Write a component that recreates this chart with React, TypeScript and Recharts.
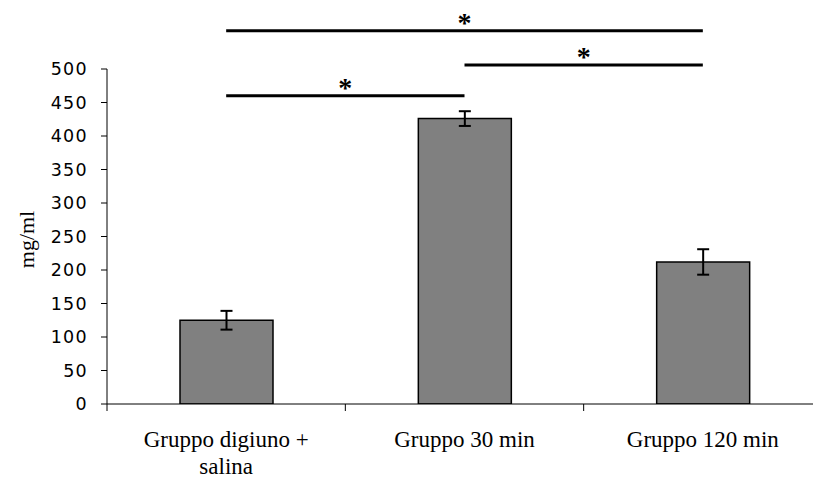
import { BarChart, Bar, XAxis, YAxis, ErrorBar, ReferenceLine } from 'recharts';

const categories = ['Gruppo digiuno + salina', 'Gruppo 30 min', 'Gruppo 120 min'];
const means = [125, 426, 212];
const errors = [14, 11, 19];
const yTicks = [0, 50, 100, 150, 200, 250, 300, 350, 400, 450, 500];
// significance brackets: pair of category indexes and the height (in mg/ml) where the bar sits
const comparisons = [
  [0, 1],
  [1, 2],
  [0, 2],
];
const comparisonLevels = [460, 506, 557];

const CHART_W = 822;
const CHART_H = 481;
const PLOT_LEFT = 107;
const BAND = (CHART_W - PLOT_LEFT) / categories.length;
const MAX_CHARS = 17;

const serif = '"Liberation Serif", "Times New Roman", serif';

const data = categories.map((name, i) => ({ name, value: means[i], err: errors[i] }));

// plain word wrap, like excel does for long category names
function wrap(label: string) {
  const lines: string[] = [];
  let cur = '';
  for (const w of label.split(' ')) {
    const next = cur ? cur + ' ' + w : w;
    if (next.length > MAX_CHARS && cur) {
      lines.push(cur);
      cur = w;
    } else {
      cur = next;
    }
  }
  if (cur) lines.push(cur);
  return lines;
}

function CategoryTick({ x, y, payload }: any) {
  const lines = wrap(String(payload.value));
  return (
    <g>
      <line x1={x - BAND / 2} y1={y} x2={x - BAND / 2} y2={y + 7} stroke="#000" strokeWidth={1} />
      <text x={x} y={y + 43} textAnchor="middle" style={{ fontFamily: serif, fontSize: 23, fill: '#000' }}>
        {lines.map((l, i) => (
          <tspan key={i} x={x} dy={i === 0 ? 0 : 27}>
            {l}
          </tspan>
        ))}
      </text>
    </g>
  );
}

function YLabel({ viewBox }: any) {
  const cx = 26;
  const cy = viewBox.y + viewBox.height / 2 + 3;
  return (
    <text
      x={cx}
      y={cy}
      transform={`rotate(-90, ${cx}, ${cy})`}
      textAnchor="middle"
      dominantBaseline="central"
      style={{ fontFamily: serif, fontSize: 22, fill: '#000' }}
    >
      mg/ml
    </text>
  );
}

export default function App() {
  return (
    <div style={{ position: 'absolute', left: 0, top: 0, width: 813, height: 481, overflow: 'hidden', background: '#fff' }}>
      <BarChart width={CHART_W} height={CHART_H} data={data} margin={{ top: 69, right: 0, bottom: 0, left: 0 }}>
        <XAxis
          dataKey="name"
          interval={0}
          height={77}
          tickSize={0}
          tickMargin={0}
          tickLine={false}
          axisLine={{ stroke: '#000', strokeWidth: 1 }}
          tick={<CategoryTick />}
        />
        <YAxis
          width={PLOT_LEFT}
          domain={[0, 500]}
          ticks={yTicks}
          allowDataOverflow
          tickSize={6}
          tickMargin={13}
          axisLine={{ stroke: '#000', strokeWidth: 1 }}
          tickLine={{ stroke: '#000', strokeWidth: 1 }}
          tick={{ fontFamily: '"DejaVu Sans", Tahoma, sans-serif', fontSize: 17.5, letterSpacing: 1.3, fill: '#000' }}
          label={<YLabel />}
        />
        <Bar dataKey="value" fill="#808080" stroke="#000" strokeWidth={1.5} barSize={93} isAnimationActive={false}>
          <ErrorBar dataKey="err" width={6} stroke="#000" strokeWidth={2} isAnimationActive={false} />
        </Bar>
        {comparisons.map(([a, b], i) => (
          <ReferenceLine
            key={i}
            segment={[
              { x: categories[a], y: comparisonLevels[i] },
              { x: categories[b], y: comparisonLevels[i] },
            ]}
            ifOverflow="visible"
            stroke="#000"
            strokeWidth={3}
            label={{ value: '*', position: 'top', offset: -1, fill: '#000', fontSize: 28, fontWeight: 'bold', fontFamily: serif }}
          />
        ))}
      </BarChart>
    </div>
  );
}
